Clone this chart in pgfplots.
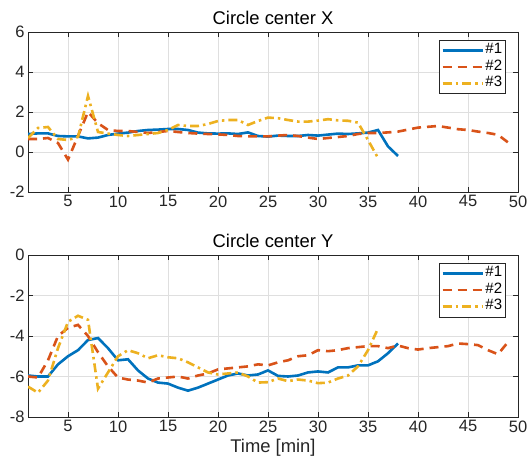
\documentclass[border=0pt]{standalone}
\usepackage{fontspec}
\setmainfont{Liberation Sans}
\usepackage{pgfplots}
\pgfplotsset{compat=1.18}
\definecolor{c1}{HTML}{0072BD}
\definecolor{c2}{HTML}{D95319}
\definecolor{c3}{HTML}{EDB120}
\definecolor{axc}{HTML}{262626}
\definecolor{gridc}{HTML}{DFDFDF}
\pgfplotsset{
  mystyle/.style={
    scale only axis, width=490pt,
    xmin=1, xmax=50, xtick={5,10,...,50},
    grid=major, grid style={color=gridc, line width=0.7pt},
    axis line style={color=axc, line width=0.8pt},
    tick style={color=axc, line width=0.8pt},
    major tick length=5pt, tick align=inside,
    xtick pos=both, ytick pos=both,
    ticklabel style={font=\fontsize{16.5}{18}\selectfont, color=axc},
    /pgf/number format/assume math mode=true,
    title style={font=\fontsize{18.4}{20}\selectfont, color=black, yshift=-2pt},
    label style={font=\fontsize{18.4}{20}\selectfont, color=axc},
    legend cell align=left,
    legend style={at={(1,1)}, anchor=north east, xshift=-12pt, yshift=-8pt,
      draw=axc, line width=0.8pt, font=\fontsize{15}{16}\selectfont,
      inner xsep=2pt, inner ysep=2pt, row sep=0pt,
      nodes={inner xsep=1.5pt, inner ysep=0pt, text height=11.5pt, text depth=5pt}},
    legend image code/.code={\draw[#1] (0pt,0pt) -- (40pt,0pt);},
    every axis plot/.append style={line width=2.6pt},
  },
  s1/.style={color=c1, solid},
  s2/.style={color=c2, dash pattern=on 9pt off 6pt},
  s3/.style={color=c3, dash pattern=on 9pt off 4pt on 2.5pt off 4pt},
}
\begin{document}
\begin{tikzpicture}
\path[use as bounding box] (0,0) rectangle (529pt,-470pt);
\begin{axis}[mystyle, at={(28pt,-32pt)}, anchor=north west, height=160pt,
  ymin=-2, ymax=6, ytick={-2,0,...,6}, title={Circle center X}]
\addplot[s1] coordinates {(1,0.9)(2,0.93)(3,0.93)(4,0.8)(5,0.78)(6,0.78)(7,0.68)(8,0.72)(9,0.85)(10,0.92)(11,0.97)(12,1.05)(13,1.1)(14,1.12)(15,1.15)(16,1.15)(17,1.1)(18,0.97)(19,0.93)(20,0.92)(21,0.93)(22,0.9)(23,0.98)(24,0.8)(25,0.77)(26,0.82)(27,0.8)(28,0.8)(29,0.85)(30,0.82)(31,0.87)(32,0.92)(33,0.9)(34,0.93)(35,0.97)(36,1.1)(37,0.28)(38,-0.2)};
\addlegendentry{\#1}
\addplot[s2] coordinates {(1,0.65)(2,0.65)(3,0.7)(4,0.45)(5,-0.38)(6,0.8)(7,2.0)(8,1.44)(9,1.1)(10,1.05)(11,1.05)(12,1.0)(13,0.95)(14,1.0)(15,1.05)(16,1.0)(17,0.95)(18,0.92)(19,0.9)(20,0.88)(21,0.85)(22,0.8)(23,0.78)(24,0.78)(25,0.78)(26,0.82)(27,0.85)(28,0.8)(29,0.72)(30,0.65)(31,0.7)(32,0.75)(33,0.8)(34,0.9)(35,0.95)(36,0.95)(37,0.98)(38,1.02)(39,1.12)(40,1.22)(41,1.26)(42,1.3)(43,1.22)(44,1.14)(45,1.1)(46,1.02)(47,0.95)(48,0.86)(49,0.48)};
\addlegendentry{\#2}
\addplot[s3] coordinates {(1,0.7)(2,1.2)(3,1.25)(4,0.65)(5,0.6)(6,0.75)(7,2.8)(8,1.0)(9,0.92)(10,0.85)(11,0.8)(12,0.85)(13,0.9)(14,0.95)(15,1.1)(16,1.35)(17,1.3)(18,1.3)(19,1.4)(20,1.55)(21,1.6)(22,1.6)(23,1.35)(24,1.55)(25,1.72)(26,1.69)(27,1.6)(28,1.52)(29,1.52)(30,1.57)(31,1.64)(32,1.58)(33,1.56)(34,1.47)(35,0.6)(36,-0.3)};
\addlegendentry{\#3}
\end{axis}
\begin{axis}[mystyle, at={(28pt,-255pt)}, anchor=north west, height=162pt,
  ymin=-8, ymax=0, ytick={-8,-6,...,0}, title={Circle center Y}, xlabel={Time [min]}]
\addplot[s1] coordinates {(1,-5.95)(2,-6.0)(3,-6.0)(4,-5.4)(5,-5.0)(6,-4.7)(7,-4.2)(8,-4.1)(9,-4.6)(10,-5.2)(11,-5.15)(12,-5.7)(13,-6.1)(14,-6.3)(15,-6.35)(16,-6.55)(17,-6.7)(18,-6.55)(19,-6.35)(20,-6.15)(21,-5.95)(22,-5.85)(23,-5.95)(24,-5.9)(25,-5.7)(26,-5.97)(27,-6.0)(28,-5.95)(29,-5.8)(30,-5.75)(31,-5.8)(32,-5.55)(33,-5.55)(34,-5.45)(35,-5.45)(36,-5.25)(37,-4.85)(38,-4.37)};
\addlegendentry{\#1}
\addplot[s2] coordinates {(1,-6.0)(2,-6.05)(3,-5.2)(4,-4.0)(5,-3.6)(6,-3.45)(7,-4.0)(8,-4.8)(9,-5.5)(10,-6.05)(11,-6.15)(12,-6.2)(13,-6.3)(14,-6.1)(15,-6.05)(16,-6.0)(17,-6.1)(18,-5.95)(19,-5.85)(20,-5.65)(21,-5.6)(22,-5.55)(23,-5.5)(24,-5.4)(25,-5.45)(26,-5.3)(27,-5.2)(28,-5.0)(29,-4.95)(30,-4.7)(31,-4.75)(32,-4.7)(33,-4.6)(34,-4.55)(35,-4.5)(36,-4.5)(37,-4.6)(38,-4.47)(39,-4.6)(40,-4.67)(41,-4.6)(42,-4.55)(43,-4.5)(44,-4.37)(45,-4.4)(46,-4.45)(47,-4.7)(48,-4.9)(49,-4.3)};
\addlegendentry{\#2}
\addplot[s3] coordinates {(1,-6.5)(2,-6.8)(3,-6.2)(4,-4.6)(5,-3.3)(6,-3.0)(7,-3.2)(8,-6.6)(9,-5.8)(10,-5.0)(11,-4.7)(12,-4.85)(13,-5.1)(14,-4.95)(15,-5.05)(16,-5.1)(17,-5.3)(18,-5.55)(19,-5.8)(20,-5.9)(21,-5.85)(22,-5.8)(23,-6.0)(24,-6.3)(25,-6.28)(26,-6.1)(27,-6.23)(28,-6.15)(29,-6.2)(30,-6.33)(31,-6.3)(32,-6.1)(33,-5.95)(34,-5.5)(35,-4.7)(36,-3.63)};
\addlegendentry{\#3}
\end{axis}
\end{tikzpicture}
\end{document}
